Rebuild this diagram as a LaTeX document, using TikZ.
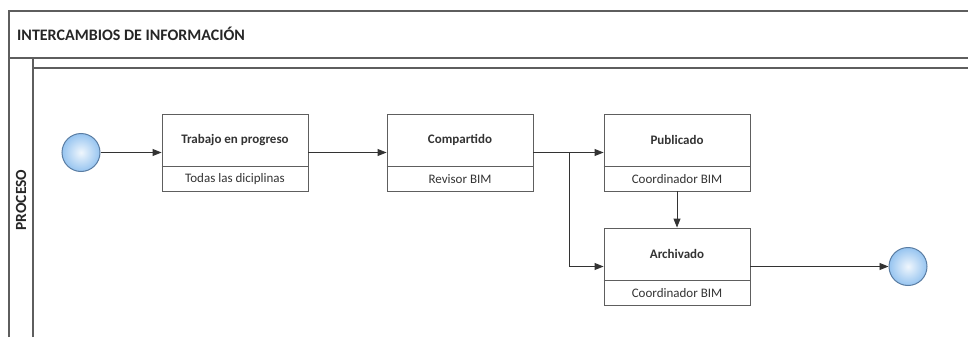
\documentclass[tikz,border=0pt]{standalone}
\usepackage{fontspec}
\setmainfont{Carlito}
\usetikzlibrary{arrows.meta}
\definecolor{linegray}{HTML}{5E5E5E}
\definecolor{textgray}{HTML}{333333}
\definecolor{bubble}{HTML}{96C4F0}
\definecolor{bubbleedge}{HTML}{5A7DA3}
\tikzset{
  marco/.style={draw=linegray, line width=1.1pt},
  linea/.style={draw=linegray, line width=0.9pt},
  tarea/.style={draw=linegray, line width=0.9pt, minimum width=146pt, minimum height=77pt, inner sep=0pt},
  titulo/.style={font=\fontsize{13}{15}\selectfont\bfseries, text=textgray, inner sep=0pt},
  rol/.style={font=\fontsize{13}{15}\selectfont, text=textgray, inner sep=0pt},
  evento/.style={circle, draw=bubbleedge, line width=1pt, minimum size=38pt, inner sep=0pt, inner color=white!85!bubble, outer color=bubble},
  flujo/.style={draw=black!80, line width=0.9pt, -{Triangle[length=9pt,width=7pt]}}
}
\begin{document}
\begin{tikzpicture}[x=1pt,y=-1pt]
\useasboundingbox (0,0) rectangle (968,337);
% Pool and lane frame
\draw[marco] (9,337) -- (9,11) -- (968,11);
\draw[marco] (9,58) -- (968,58);
\draw[marco] (33,337) -- (33,68) -- (968,68);
\draw[marco] (33,58) -- (33,68);
\node[anchor=west, font=\fontsize{16}{18}\selectfont\bfseries, text=black!85, inner sep=0pt] (pool) at (17,34) {INTERCAMBIOS DE INFORMACIÓN};
\node[rotate=90, font=\fontsize{15.5}{17}\selectfont\bfseries, text=black!85, inner sep=0pt] (lane) at (21,200) {PROCESO};

% Start and end events
\node[evento] (inicio) at (81,152.5) {};
\node[evento] (fin) at (908,266.5) {};

% Tasks: name/x/y/title/role
\foreach \name/\cx/\cy/\titulo/\rol in {trabajo/235/152.5/Trabajo en progreso/Todas las diciplinas,
    compartido/460/152.5/Compartido/Revisor BIM,
    publicado/677/152.5/Publicado/Coordinador BIM,
    archivado/677/266.5/Archivado/Coordinador BIM} {
  \node[tarea] (\name) at (\cx,\cy) {};
  \draw[linea] ([yshift=25pt]\name.south west) -- ([yshift=25pt]\name.south east);
  \node[titulo] at ([yshift=-26pt]\name.north) {\titulo};
  \node[rol] at ([yshift=12.5pt]\name.south) {\rol};
}

% Sequence flows
\coordinate (cruce) at ([xshift=36pt]compartido.east);
\draw[flujo] (inicio) -- (trabajo);
\draw[flujo] (trabajo) -- (compartido);
\draw[flujo] (compartido) -- (publicado);
\draw[flujo] (cruce) |- (archivado);
\draw[flujo] (publicado) -- (archivado);
\draw[flujo] (archivado) -- (fin);
\end{tikzpicture}
\end{document}
